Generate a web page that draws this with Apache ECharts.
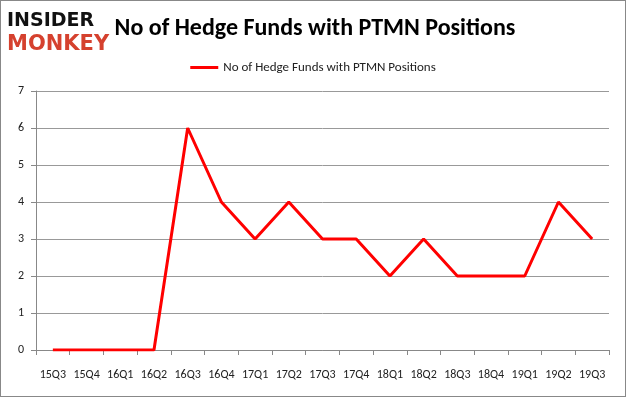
<!DOCTYPE html>
<html><head><meta charset="utf-8">
<script src="https://cdn.jsdelivr.net/npm/echarts@6/dist/echarts.min.js"></script>
<style>html,body{margin:0;padding:0;background:#fff}#c{width:626px;height:397px;box-sizing:border-box;border:1px solid #888}</style>
</head><body><div id="c"></div>
<script>
const categories = ["15Q3","15Q4","16Q1","16Q2","16Q3","16Q4","17Q1","17Q2","17Q3","17Q4","18Q1","18Q2","18Q3","18Q4","19Q1","19Q2","19Q3"];
const seriesName = "No of Hedge Funds with PTMN Positions";
const values = [0,0,0,0,6,4,3,4,3,3,2,3,2,2,2,4,3];
const yTicks = [0,1,2,3,4,5,6,7];

const chart = echarts.init(document.getElementById('c'), null, {renderer:'canvas'});
const font = 'Calibri, Carlito, "Open Sans", "Liberation Sans", sans-serif';
chart.setOption({
  animation:false,
  title:[
    {text:'No of Hedge Funds with PTMN Positions', left:309, textAlign:'center', top:11,
     textStyle:{fontFamily:font, fontSize:24, fontWeight:'bold', color:'#000'}},
    {text:'INSIDER', left:1, top:6, textStyle:{fontFamily:'"DejaVu Sans", sans-serif', fontSize:19, fontWeight:900, color:'#111'}},
    {text:'MONKEY', left:1, top:28, textStyle:{fontFamily:'"DejaVu Sans", sans-serif', fontSize:21, fontWeight:900, color:'#d5412e'}}
  ],
  legend:{data:[seriesName], top:55, left:'center', itemWidth:28, itemHeight:3, icon:'rect',
    textStyle:{fontFamily:font, fontSize:13, color:'#222'}},
  grid:{left:35, right:16, top:90, bottom:46},
  xAxis:{type:'category', data:categories, boundaryGap:true,
    axisLine:{lineStyle:{color:'#888'}}, axisTick:{show:true, length:5, lineStyle:{color:'#888'}},
    axisLabel:{interval:0, margin:19, fontFamily:font, fontSize:12, color:'#222'}},
  yAxis:{type:'value', min:0, max:7, interval:1,
    axisLine:{show:true, lineStyle:{color:'#888'}}, axisTick:{show:true, length:5, inside:false, lineStyle:{color:'#888'}},
    splitLine:{lineStyle:{color:'#999'}},
    axisLabel:{margin:12, fontFamily:font, fontSize:12, color:'#222'}},
  series:[{name:seriesName, type:'line', data:values, symbol:'none', lineStyle:{color:'#ff0000', width:3}, itemStyle:{color:'#ff0000'}}]
});
</script></body></html>
